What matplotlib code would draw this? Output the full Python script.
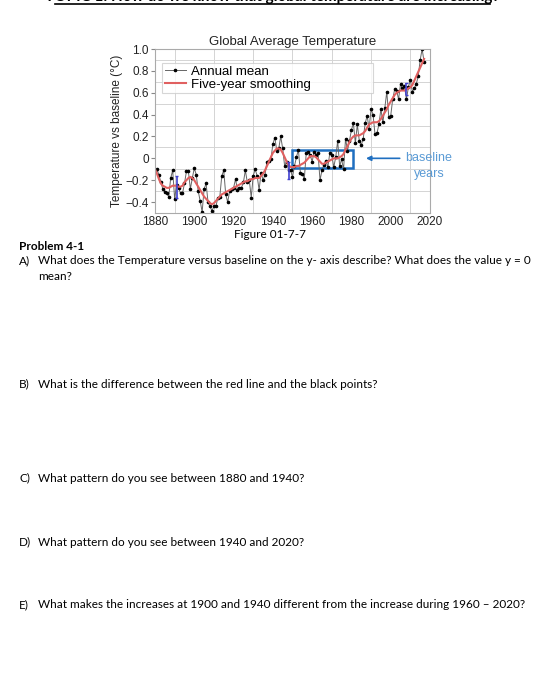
import numpy as np
import matplotlib.pyplot as plt
from matplotlib.lines import Line2D

# Annual global temperature vs 1951-1980 baseline
years = list(range(1880, 2018))
annual_mean = [
    -0.12, -0.10, -0.15, -0.22, -0.28, -0.31, -0.32, -0.35, -0.18, -0.11,
    -0.37, -0.24, -0.27, -0.32, -0.32, -0.23, -0.12, -0.12, -0.28, -0.18,
    -0.09, -0.15, -0.30, -0.39, -0.49, -0.28, -0.23, -0.40, -0.44, -0.48,
    -0.44, -0.44, -0.36, -0.35, -0.16, -0.11, -0.33, -0.40, -0.30, -0.28,
    -0.27, -0.19, -0.29, -0.27, -0.27, -0.22, -0.11, -0.22, -0.20, -0.36,
    -0.16, -0.10, -0.16, -0.29, -0.13, -0.20, -0.15, -0.03, -0.02, -0.01,
    0.13, 0.19, 0.07, 0.09, 0.20, 0.09, -0.07, -0.03, -0.11, -0.11,
    -0.17, -0.07, 0.01, 0.08, -0.13, -0.14, -0.19, 0.05, 0.06, 0.03,
    -0.03, 0.06, 0.03, 0.05, -0.20, -0.11, -0.06, -0.02, -0.08, 0.05,
    0.03, -0.08, 0.01, 0.16, -0.07, -0.01, -0.10, 0.18, 0.07, 0.16,
    0.26, 0.32, 0.14, 0.31, 0.16, 0.12, 0.18, 0.32, 0.39, 0.27,
    0.45, 0.40, 0.22, 0.23, 0.31, 0.45, 0.33, 0.46, 0.61, 0.38,
    0.39, 0.54, 0.63, 0.62, 0.54, 0.68, 0.64, 0.66, 0.54, 0.65,
    0.72, 0.61, 0.64, 0.68, 0.75, 0.90, 1.00, 0.88,
]
five_year = [
    -0.10, -0.14, -0.19, -0.23, -0.25, -0.26, -0.27, -0.27, -0.26, -0.25,
    -0.25, -0.25, -0.26, -0.26, -0.25, -0.22, -0.20, -0.18, -0.17, -0.18,
    -0.20, -0.23, -0.26, -0.29, -0.32, -0.35, -0.37, -0.39, -0.41, -0.42,
    -0.41, -0.39, -0.37, -0.35, -0.33, -0.32, -0.31, -0.30, -0.29, -0.28,
    -0.27, -0.26, -0.25, -0.24, -0.23, -0.22, -0.21, -0.21, -0.20, -0.19,
    -0.19, -0.18, -0.18, -0.18, -0.16, -0.14, -0.11, -0.07, -0.03, 0.01,
    0.05, 0.07, 0.09, 0.09, 0.08, 0.05, 0.01, -0.03, -0.06, -0.08,
    -0.08, -0.08, -0.07, -0.07, -0.06, -0.05, -0.04, -0.02, 0.00, 0.02,
    0.02, 0.02, 0.01, -0.01, -0.03, -0.05, -0.05, -0.04, -0.03, -0.02,
    -0.01, 0.00, 0.00, 0.00, 0.01, 0.02, 0.04, 0.08, 0.11, 0.15,
    0.18, 0.20, 0.21, 0.21, 0.21, 0.22, 0.23, 0.25, 0.28, 0.31,
    0.32, 0.33, 0.33, 0.33, 0.34, 0.36, 0.39, 0.42, 0.45, 0.49,
    0.52, 0.55, 0.58, 0.60, 0.61, 0.62, 0.62, 0.62, 0.63, 0.64,
    0.65, 0.67, 0.71, 0.75, 0.79, 0.83, 0.87, 0.91,
]

# uncertainty bars (year, low, high)
unc_years = [1891, 1948, 2008]
unc_low = [-0.36, -0.19, 0.58]
unc_high = [-0.16, -0.03, 0.69]

baseline_start, baseline_end = 1950, 1981
y_ticks = [1.0, 0.8, 0.6, 0.4, 0.2, 0, -0.2, -0.4]
y_tick_labels = ['1.0', '0.8', '0.6', '0.4', '0.2', '0', '\u22120.2', '\u22120.4']
x_ticks = [1880, 1900, 1920, 1940, 1960, 1980, 2000, 2020]

questions = [
    ('A)', 'What does the Temperature versus baseline on the y- axis describe? What does the value y = 0'),
    ('B)', 'What is the difference between the red line and the black points?'),
    ('C)', 'What pattern do you see between 1880 and 1940?'),
    ('D)', 'What pattern do you see between 1940 and 2020?'),
    ('E)', 'What makes the increases at 1900 and 1940 different from the increase during 1960 \u2013 2020?'),
]
question_y = [261, 384, 478, 542, 605]

W, H = 560, 682
fig = plt.figure(figsize=(W / 100, H / 100), dpi=100)
chart_font = 'Liberation Sans'
doc_font = 'Lato'
body_size = 8.5

ax = fig.add_axes([155 / W, 1 - 213 / H, 275 / W, 164 / H])
ax.set_xlim(1880, 2020)
ax.set_ylim(-0.5, 1.0)

ax.set_xticks(np.arange(1880, 2021, 10), minor=True)
ax.set_yticks(np.arange(-0.5, 1.01, 0.1), minor=True)
ax.grid(which='minor', color='#d4d4d4', lw=0.7)
ax.set_axisbelow(True)
ax.set_xticks(x_ticks)
ax.set_xticklabels([str(x) for x in x_ticks], fontsize=8.5, family=chart_font)
ax.set_yticks(y_ticks)
ax.set_yticklabels(y_tick_labels, fontsize=8.5, family=chart_font)
ax.tick_params(which='minor', length=0)
ax.tick_params(which='major', length=3, color='#888888', pad=1.5, labelcolor='#222222')
ax.tick_params(axis='x', length=0, pad=2.5)
for s in ax.spines.values():
    s.set_color('#aaaaaa')
    s.set_linewidth(0.8)

ax.plot(years, annual_mean, color='#666666', lw=0.7, marker='o', ms=1.6,
        mfc='black', mec='black', label='Annual mean')
ax.plot(years, five_year, color='#e06060', lw=1.5, label='Five-year smoothing')
ax.vlines(unc_years, unc_low, unc_high, color='#4040d0', lw=1.2)
ax.hlines(unc_low + unc_high, [y - 0.6 for y in unc_years] * 2,
          [y + 0.6 for y in unc_years] * 2, color='#4040d0', lw=1.0)

# baseline box and label
ax.add_patch(plt.Rectangle((baseline_start, -0.09), baseline_end - baseline_start, 0.17,
                           fill=False, ec='#1f6fc0', lw=1.8))
ax.annotate('', xy=(1986, 0), xytext=(2006, 0),
            arrowprops=dict(arrowstyle='-|>', color='#1f6fc0', lw=1.2,
                            mutation_scale=7))
ax.text(2019.5, 0.0, 'baseline', color='#5b9bd5', fontsize=9, family=chart_font,
        ha='center', va='center', clip_on=False)
ax.text(2019.5, -0.145, 'years', color='#5b9bd5', fontsize=9, family=chart_font,
        ha='center', va='center', clip_on=False)

ax.set_title('Global Average Temperature', fontsize=9.5, family=chart_font,
             color='#222222', pad=3)
ax.set_ylabel('Temperature vs baseline (\u00b0C)', fontsize=8.5, family=chart_font,
              color='#222222', labelpad=1.5)

leg = ax.legend(loc='upper left', bbox_to_anchor=(0.025, 0.732, 0.767, 0.183),
                mode='expand', prop={'family': chart_font, 'size': 9.5},
                frameon=True, fancybox=False, handlelength=1.6, handletextpad=0.4,
                borderpad=0.2, labelspacing=0.05, borderaxespad=0)
leg.get_frame().set_edgecolor('#cccccc')
leg.get_frame().set_linewidth(0.8)

# page text around the figure (heading is cut by the top edge in the scan)
fig.text(272 / W, 1 - 1.5 / H, 'TOPIC 1: How do we know that global temperature are increasing?',
         ha='center', va='baseline', fontsize=11, fontweight='bold', family=doc_font)
fig.add_artist(Line2D([55 / W, 490 / W], [1 - 4 / H, 1 - 4 / H], color='black', lw=1.2))

fig.text(270 / W, 1 - 235 / H, 'Figure 01-7-7', ha='center', va='center',
         fontsize=body_size, family=doc_font)
fig.text(19 / W, 1 - 247 / H, 'Problem 4-1', ha='left', va='center',
         fontsize=body_size, fontweight='bold', family=doc_font)
for (lab, q), qy in zip(questions, question_y):
    fig.text(19 / W, 1 - qy / H, lab, ha='left', va='center', fontsize=body_size, family=doc_font)
    fig.text(38 / W, 1 - qy / H, q, ha='left', va='center', fontsize=body_size, family=doc_font)
fig.text(38 / W, 1 - 276 / H, 'mean?', ha='left', va='center', fontsize=body_size, family=doc_font)

fig.savefig('out.png', dpi=100, facecolor='white')
